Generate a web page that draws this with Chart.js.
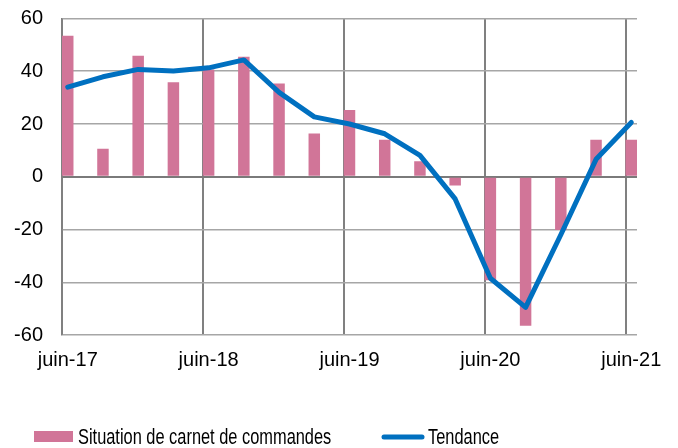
<!DOCTYPE html>
<html lang="fr">
<head>
<meta charset="utf-8">
<title>Situation de carnet de commandes</title>
<script src="https://cdn.jsdelivr.net/npm/chart.js@4.4.1/dist/chart.umd.min.js"></script>
<style>
  html, body { margin: 0; padding: 0; background: #fff; }
  #wrap { width: 678px; height: 448px; position: relative; }
</style>
</head>
<body>
<div id="wrap"><canvas id="chart"></canvas></div>
<script>
  // quarters, juin-17 .. juin-21
  const quarters = [
    "juin-17", "sept-17", "déc-17", "mars-18",
    "juin-18", "sept-18", "déc-18", "mars-19",
    "juin-19", "sept-19", "déc-19", "mars-20",
    "juin-20", "sept-20", "déc-20", "mars-21",
    "juin-21",
  ];
  const carnet = [53.5, 10.6, 45.9, 35.8, 40.7, 45.5, 35.4, 16.4, 25.3, 14.0, 5.9, -3.3, -39.2, -56.5, -20.2, 14.0, 14.0];
  const tendance = [34.0, 37.9, 40.7, 40.1, 41.3, 44.3, 32.0, 22.7, 20.0, 16.3, 8.1, -8.4, -38.5, -49.5, -22.0, 6.6, 20.6];
  const xTickLabels = ["juin-17", "juin-18", "juin-19", "juin-20", "juin-21"];
  const xTickIndex = [0, 4, 8, 12, 16];
  const yTicks = [-60, -40, -20, 0, 20, 40, 60];

  const PINK = "#d17598";
  const BLUE = "#0070c0";
  const HALF = 0.163; // half bar width, in quarters
  const FONT = "'Liberation Sans', Arial, sans-serif";

  const legendPlugin = {
    id: "bottomLegend",
    afterDraw(chart) {
      const ctx = chart.ctx;
      const [bars, line] = chart.data.datasets;
      ctx.save();
      ctx.fillStyle = bars.backgroundColor;
      ctx.fillRect(34, 431, 39, 11);

      ctx.strokeStyle = line.borderColor;
      ctx.lineWidth = 5;
      ctx.lineCap = "round";
      ctx.beginPath();
      ctx.moveTo(384, 437);
      ctx.lineTo(422, 437);
      ctx.stroke();

      ctx.fillStyle = "#000";
      ctx.font = "22px " + FONT;
      ctx.textBaseline = "alphabetic";
      [[bars.label, 78], [line.label, 428]].forEach(([text, x]) => {
        ctx.save();
        ctx.translate(x, 444);
        ctx.scale(0.745, 1);
        ctx.fillText(text, 0, 0);
        ctx.restore();
      });
      ctx.restore();
    },
  };

  new Chart(document.getElementById("chart"), {
    type: "bar",
    data: {
      labels: quarters,
      datasets: [
        {
          type: "bar",
          label: "Situation de carnet de commandes",
          data: carnet.map((v, i) => ({ x: i, y: v })),
          backgroundColor: PINK,
          barPercentage: HALF * 2,
          categoryPercentage: 1,
          order: 1,
        },
        {
          type: "line",
          label: "Tendance",
          data: tendance.map((v, i) => ({ x: i, y: v })),
          borderColor: BLUE,
          borderWidth: 5,
          pointRadius: 0,
          tension: 0,
          borderJoinStyle: "round",
          borderCapStyle: "round",
          order: 0,
        },
      ],
    },
    options: {
      responsive: true,
      maintainAspectRatio: false,
      animation: false,
      layout: { padding: { top: 18.5, right: 41, bottom: 0, left: 0 } },
      plugins: {
        legend: { display: false },
        tooltip: { enabled: false },
      },
      scales: {
        x: {
          type: "linear",
          position: "bottom",
          offset: false,
          min: -HALF,
          max: quarters.length - 1 + HALF,
          afterBuildTicks: (scale) => {
            scale.ticks = xTickIndex.map((v) => ({ value: v }));
          },
          afterFit: (scale) => { scale.height = 113; },
          grid: { display: false, drawTicks: false, offset: false },
          border: { display: false },
          ticks: {
            padding: 13,
            color: "#000",
            font: { family: FONT, size: 20 },
            maxRotation: 0,
            autoSkip: false,
            callback: (value) => xTickLabels[xTickIndex.indexOf(value)] || "",
          },
        },
        xGrid: {
          type: "linear",
          position: "bottom",
          offset: false,
          min: -HALF,
          max: quarters.length - 1 + HALF,
          afterBuildTicks: (scale) => {
            scale.ticks = xTickIndex.map((v) => ({ value: v - HALF }));
          },
          afterFit: (scale) => { scale.height = 0; },
          grid: { color: "#808080", lineWidth: 2, drawTicks: false, offset: false },
          border: { display: false },
          ticks: { display: false },
        },
        y: {
          min: -60,
          max: 60,
          afterBuildTicks: (scale) => {
            scale.ticks = yTicks.map((v) => ({ value: v }));
          },
          afterFit: (scale) => {
            scale.width = 62;
            scale.paddingTop = 0;
            scale.paddingBottom = 0;
          },
          grid: {
            color: (c) => (c.tick && c.tick.value === 0 ? "#7a7a7a" : "#a6a6a6"),
            lineWidth: (c) => (c.tick && c.tick.value === 0 ? 2 : 1.5),
            drawTicks: false,
          },
          border: { color: "#808080", width: 1.5 },
          ticks: {
            padding: 19,
            color: "#000",
            font: { family: FONT, size: 20 },
          },
        },
      },
    },
    plugins: [legendPlugin],
  });
</script>
</body>
</html>
